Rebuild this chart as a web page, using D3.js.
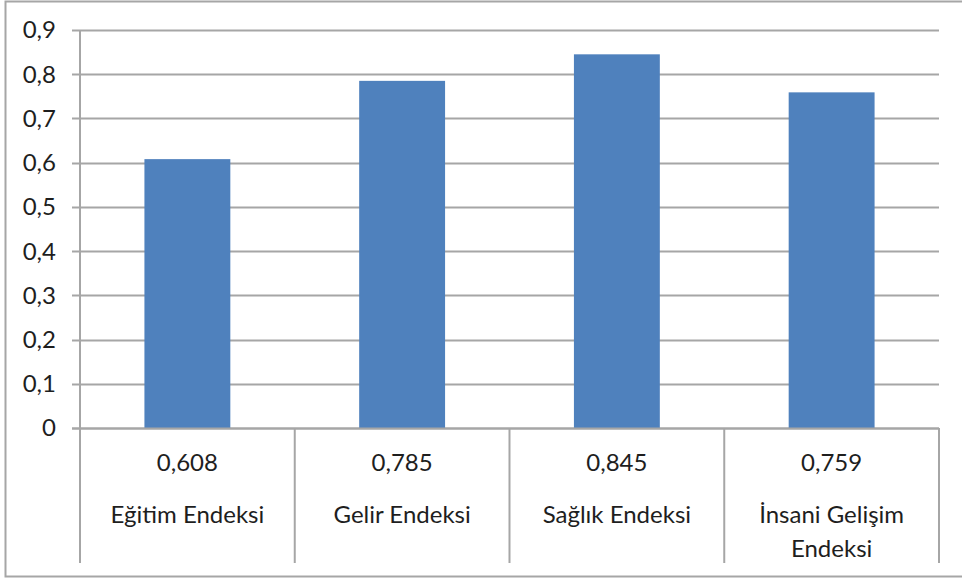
<!DOCTYPE html>
<html><head><meta charset="utf-8">
<script src="https://cdn.jsdelivr.net/npm/d3@7"></script>
<style>body{margin:0;background:#fff;} svg{display:block;}</style>
</head><body>
<svg id="c" width="962" height="581"></svg>
<script>
const categories = [["Eğitim Endeksi"], ["Gelir Endeksi"], ["Sağlık Endeksi"], ["İnsani Gelişim", "Endeksi"]];
const values = [0.608, 0.785, 0.845, 0.759];
const valueLabels = ["0,608", "0,785", "0,845", "0,759"];
const yTicks = [0, 0.1, 0.2, 0.3, 0.4, 0.5, 0.6, 0.7, 0.8, 0.9];

(function () {
const svg = d3.select("#c");
const font = "Lato, 'Open Sans', sans-serif";
const fs = 24;
const txt = "#1e1e1e";
const gridColor = "#a6a6a6";

svg.append("rect").attr("x", 5.5).attr("y", 1.5).attr("width", 970).attr("height", 575)
  .attr("fill", "#fff").attr("stroke", "#a6a6a6").attr("stroke-width", 2);

const pl = 80, pr = 939, pt = 30, pb = 428;
const x = d3.scaleBand().domain(d3.range(categories.length)).range([pl, pr]).padding(0);
const y = d3.scaleLinear().domain([0, 0.9]).range([pb, pt]);

svg.append("g").selectAll("line").data(yTicks).join("line")
  .attr("x1", pl - 8).attr("x2", pr)
  .attr("y1", d => Math.round(y(d)) + 0.5).attr("y2", d => Math.round(y(d)) + 0.5)
  .attr("stroke", gridColor).attr("stroke-width", 2);

svg.append("line").attr("x1", pl).attr("x2", pl).attr("y1", pt).attr("y2", pb)
  .attr("stroke", gridColor).attr("stroke-width", 2);

svg.append("g").selectAll("text").data(yTicks).join("text")
  .attr("x", 56).attr("y", d => y(d)).attr("dy", "0.35em")
  .attr("text-anchor", "end").attr("font-family", font).attr("font-size", fs).attr("fill", txt)
  .text(d => d === 0 ? "0" : d3.format(".1f")(d).replace(".", ","));

const bw = x.bandwidth() * 0.4;
svg.append("g").selectAll("rect").data(values).join("rect")
  .attr("x", (d, i) => x(i) + x.bandwidth() / 2 - bw / 2)
  .attr("width", bw)
  .attr("y", d => y(d)).attr("height", d => y(0) - y(d))
  .attr("fill", "#4f81bd");

svg.append("line").attr("x1", pl - 8).attr("x2", pr).attr("y1", pb + 0.5).attr("y2", pb + 0.5)
  .attr("stroke", gridColor).attr("stroke-width", 2);

const seps = d3.range(categories.length + 1).map(i => i < categories.length ? x(i) : pr);
svg.append("g").selectAll("line").data(seps).join("line")
  .attr("x1", d => d).attr("x2", d => d).attr("y1", pb).attr("y2", 563)
  .attr("stroke", gridColor).attr("stroke-width", 2);

svg.append("g").selectAll("text").data(valueLabels).join("text")
  .attr("x", (d, i) => x(i) + x.bandwidth() / 2).attr("y", 463).attr("dy", "0.35em")
  .attr("text-anchor", "middle").attr("font-family", font).attr("font-size", fs).attr("fill", txt)
  .text(d => d);

const cg = svg.append("g");
categories.forEach((lines, i) => {
  lines.forEach((t, j) => {
    cg.append("text").attr("x", x(i) + x.bandwidth() / 2).attr("y", 515 + j * 34).attr("dy", "0.35em")
      .attr("text-anchor", "middle").attr("font-family", font).attr("font-size", fs).attr("fill", txt)
      .text(t);
  });
});
})();
</script>
</body></html>
